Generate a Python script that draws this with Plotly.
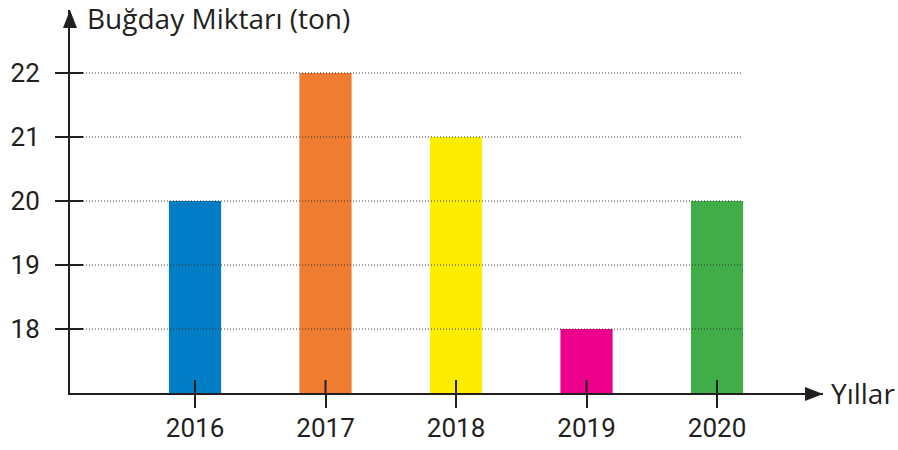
import plotly.graph_objects as go

# Wheat harvest per year
years = [2016, 2017, 2018, 2019, 2020]
tons = [20, 22, 21, 18, 20]
bar_colors = ["#007DC5", "#EE7D31", "#FFED00", "#EC008C", "#41AD49"]
y_ticks = [18, 19, 20, 21, 22]

INK = "#231f20"
FONT = "Roboto"
WORD_FONT = "Open Sans"

# plot-area geometry (pixels)
W, H = 898, 450
L, R, T, B = 70, 75, 10, 57
PW, PH = W - L - R, H - T - B

x_range = [2015.042, 2020.812]
y_range = [17, 22.984]
px_x = PW / (x_range[1] - x_range[0])
px_y = PH / (y_range[1] - y_range[0])
tick_in = 13  # inner half of the cross-shaped ticks
bar_w = 0.4

fig = go.Figure()
fig.add_trace(go.Bar(
    x=years, y=tons, width=bar_w,
    marker=dict(color=bar_colors, line=dict(width=0)),
    hoverinfo="skip",
))

shapes = []
# dotted guide lines at each value level, drawn over the bars
for v in y_ticks:
    shapes.append(dict(
        type="line", xref="x", yref="y", layer="above",
        x0=x_range[0] + tick_in / px_x, x1=years[-1] + bar_w / 2,
        y0=v, y1=v, line=dict(color="#333333", width=1, dash="1px,2px"),
    ))
    # inner half of the y tick
    shapes.append(dict(
        type="line", xref="x", yref="y", layer="above",
        x0=x_range[0], x1=x_range[0] + tick_in / px_x, y0=v, y1=v,
        line=dict(color=INK, width=2),
    ))
# inner half of the x ticks
for yr in years:
    shapes.append(dict(
        type="line", xref="x", yref="y", layer="above",
        x0=yr, x1=yr, y0=y_range[0], y1=y_range[0] + tick_in / px_y,
        line=dict(color=INK, width=2),
    ))

# arrowheads at the ends of both axes (paper coordinates)
ah_len, ah_half = 18, 7
shapes.append(dict(type="path", xref="paper", yref="paper", layer="above",
                   path=f"M {-ah_half/PW} {1-ah_len/PH} L 0 1 L {ah_half/PW} {1-ah_len/PH} Z",
                   fillcolor=INK, line=dict(width=0)))
shapes.append(dict(type="path", xref="paper", yref="paper", layer="above",
                   path=f"M {1-ah_len/PW} {(ah_half-1)/PH} L 1 {-1/PH} L {1-ah_len/PW} {(-ah_half-1)/PH} Z",
                   fillcolor=INK, line=dict(width=0)))

axis_common = dict(
    showline=True, linecolor=INK, linewidth=2,
    ticks="outside", ticklen=13, tickwidth=2, tickcolor=INK,
    showgrid=False, zeroline=False, automargin=False,
    tickfont=dict(family=FONT, size=26, color=INK),
    fixedrange=True,
)

fig.update_layout(
    width=W, height=H,
    margin=dict(l=L, r=R, t=T, b=B, pad=0, autoexpand=False),
    paper_bgcolor="white", plot_bgcolor="white",
    showlegend=False,
    shapes=shapes,
    xaxis=dict(range=x_range, tickvals=years, ticktext=[str(y) for y in years],
               ticklabelstandoff=-2, **axis_common),
    yaxis=dict(range=y_range, tickvals=y_ticks, ticktext=[str(v) for v in y_ticks],
               ticklabelstandoff=10, **axis_common),
    annotations=[
        dict(text="Buğday Miktarı (ton)", xref="paper", yref="paper",
             x=(85 - L) / PW, y=1 + (T - 18) / PH, xanchor="left", yanchor="middle",
             showarrow=False, font=dict(family=WORD_FONT, size=28, color=INK)),
        dict(text="Yıllar", xref="paper", yref="paper",
             x=1 + 6 / PW, y=0, xanchor="left", yanchor="middle",
             showarrow=False, font=dict(family=WORD_FONT, size=28, color=INK)),
    ],
)

fig.write_html("out.html")
